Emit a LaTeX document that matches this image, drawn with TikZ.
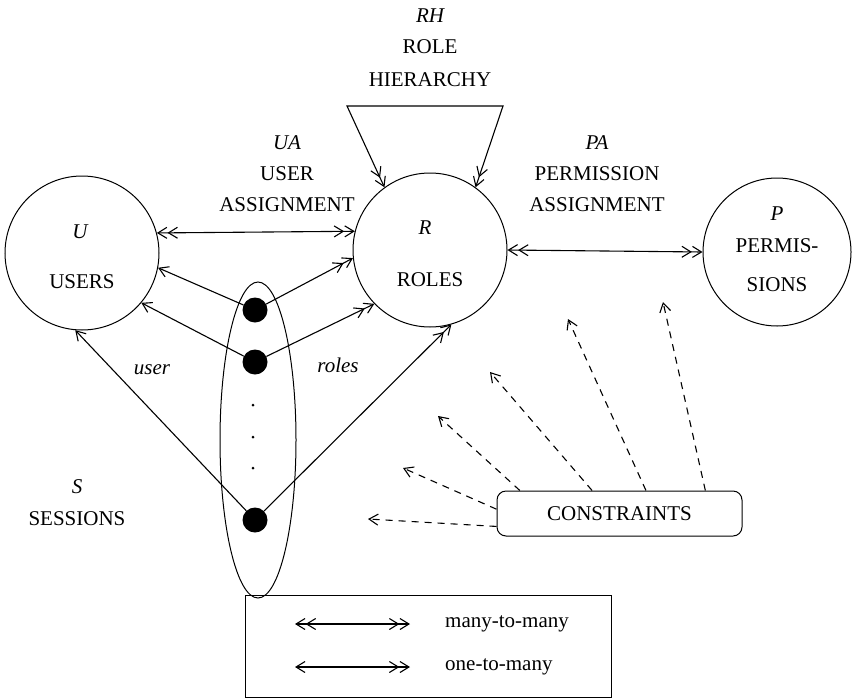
\documentclass[tikz,border=0pt]{standalone}
\usepackage{fontspec}
\setmainfont{Liberation Serif}
\usetikzlibrary{arrows.meta,shapes.geometric}
\tikzset{
  onehead/.tip={Straight Barb[length=9pt,width=11pt]},
  twohead/.tip={Straight Barb[length=9pt,width=11pt]Straight Barb[length=9pt,width=11pt]},
}
\begin{document}
\begin{tikzpicture}[x=1pt,y=-1pt,
  every node/.style={font=\fontsize{21}{25}\selectfont, inner sep=0pt},
  setnode/.style={draw, circle, minimum size=154pt, line width=1pt},
  dotnode/.style={circle, fill, minimum size=25pt},
  tinydot/.style={circle, fill, minimum size=3pt},
  conn/.style={line width=1.1pt},
  cons/.style={line width=1.1pt, dash pattern=on 7pt off 6pt, -{onehead}},
  lbl/.style={font=\fontsize{21}{25}\selectfont\itshape},
]
\useasboundingbox (0,0) rectangle (856,699);

% the three sets
\node[setnode] (U) at (82,253) {};
\node[setnode] (R) at (430,250) {};
\node[setnode, minimum size=148pt] (P) at (777,252) {};

\node[lbl] (Ul) at (80,232) {U};
\node (Ut) at (82,282) {USERS};
\node[lbl] (Rl) at (425,228) {R};
\node (Rt) at (430,280) {ROLES};
\node[lbl] (Pl) at (777,214) {P};
\node (Pt1) at (777,246) {PERMIS-};
\node (Pt2) at (777,285) {SIONS};

% relation labels
\node[lbl] (RHl) at (430,16) {RH};
\node (RHt1) at (430,47) {ROLE};
\node (RHt2) at (430,80) {HIERARCHY};
\node[lbl] (UAl) at (287,143) {UA};
\node (UAt1) at (287,174) {USER};
\node (UAt2) at (287,205) {ASSIGNMENT};
\node[lbl] (PAl) at (597,143) {PA};
\node (PAt1) at (597,174) {PERMISSION};
\node (PAt2) at (597,205) {ASSIGNMENT};

% sessions
\node[draw, ellipse, minimum width=76pt, minimum height=316pt, line width=1pt] (S) at (258,440) {};
\node[dotnode] (d1) at (255,310) {};
\node[dotnode] (d2) at (255,362) {};
\node[dotnode] (d3) at (255,520) {};
\node[tinydot] (v1) at (253,405) {};
\node[tinydot] (v2) at (253,437) {};
\node[tinydot] (v3) at (253,468) {};
\node[lbl] (Sl) at (77,487) {S};
\node (St) at (77,519) {SESSIONS};
\node[lbl] (ul) at (152,370) {user};
\node[lbl] (rl) at (338,365) {roles};

% assignments and hierarchy
\draw[conn, {twohead}-{twohead}] (U.15) -- (R.166);
\draw[conn, {twohead}-{twohead}] (R.0) -- (P.180);
\coordinate (rhL) at (347,106);
\coordinate (rhR) at (503,106);
\draw[conn, {twohead}-{twohead}] (R.126) -- (rhL) -- (rhR) -- (R.54);

% session functions
\draw[conn, -{onehead}] (d1) -- (U.-11);
\draw[conn, -{onehead}] (d2) -- (U.-40);
\draw[conn, -{onehead}] (d3) -- (U.-95);
\draw[conn, -{twohead}] (d1) -- (R.186);
\draw[conn, -{twohead}] (d2) -- (R.224);
\draw[conn, -{twohead}] (d3) -- (R.286);

% constraints
\node[draw, rounded corners=9pt, minimum width=245pt, minimum height=45pt, line width=1pt] (C) at (619.5,513.5) {CONSTRAINTS};
\coordinate (ca) at (368,519);
\coordinate (cb) at (403,468);
\coordinate (cc) at (438,416);
\coordinate (cd) at (490,372);
\coordinate (ce) at (568,319);
\coordinate (cf) at (663,302);
\draw[cons] (C.186) -- (ca);
\draw[cons] (C.178) -- (cb);
\draw[cons] (C.167) -- (cc);
\draw[cons] (C.140) -- (cd);
\draw[cons] (C.41) -- (ce);
\draw[cons] (C.15) -- (cf);

% key
\node[draw, line width=1pt, minimum width=366pt, minimum height=102pt] (key) at (428,646) {};
\coordinate (k1a) at (295,624);
\coordinate (k1b) at (410,624);
\coordinate (k2a) at (295,667);
\coordinate (k2b) at (410,667);
\draw[conn, {twohead}-{twohead}] (k1a) -- (k1b);
\draw[conn, {onehead}-{twohead}] (k2a) -- (k2b);
\node[anchor=west] (k1t) at (445,624) {many-to-many};
\node[anchor=west] (k2t) at (445,667) {one-to-many};
\end{tikzpicture}
\end{document}
